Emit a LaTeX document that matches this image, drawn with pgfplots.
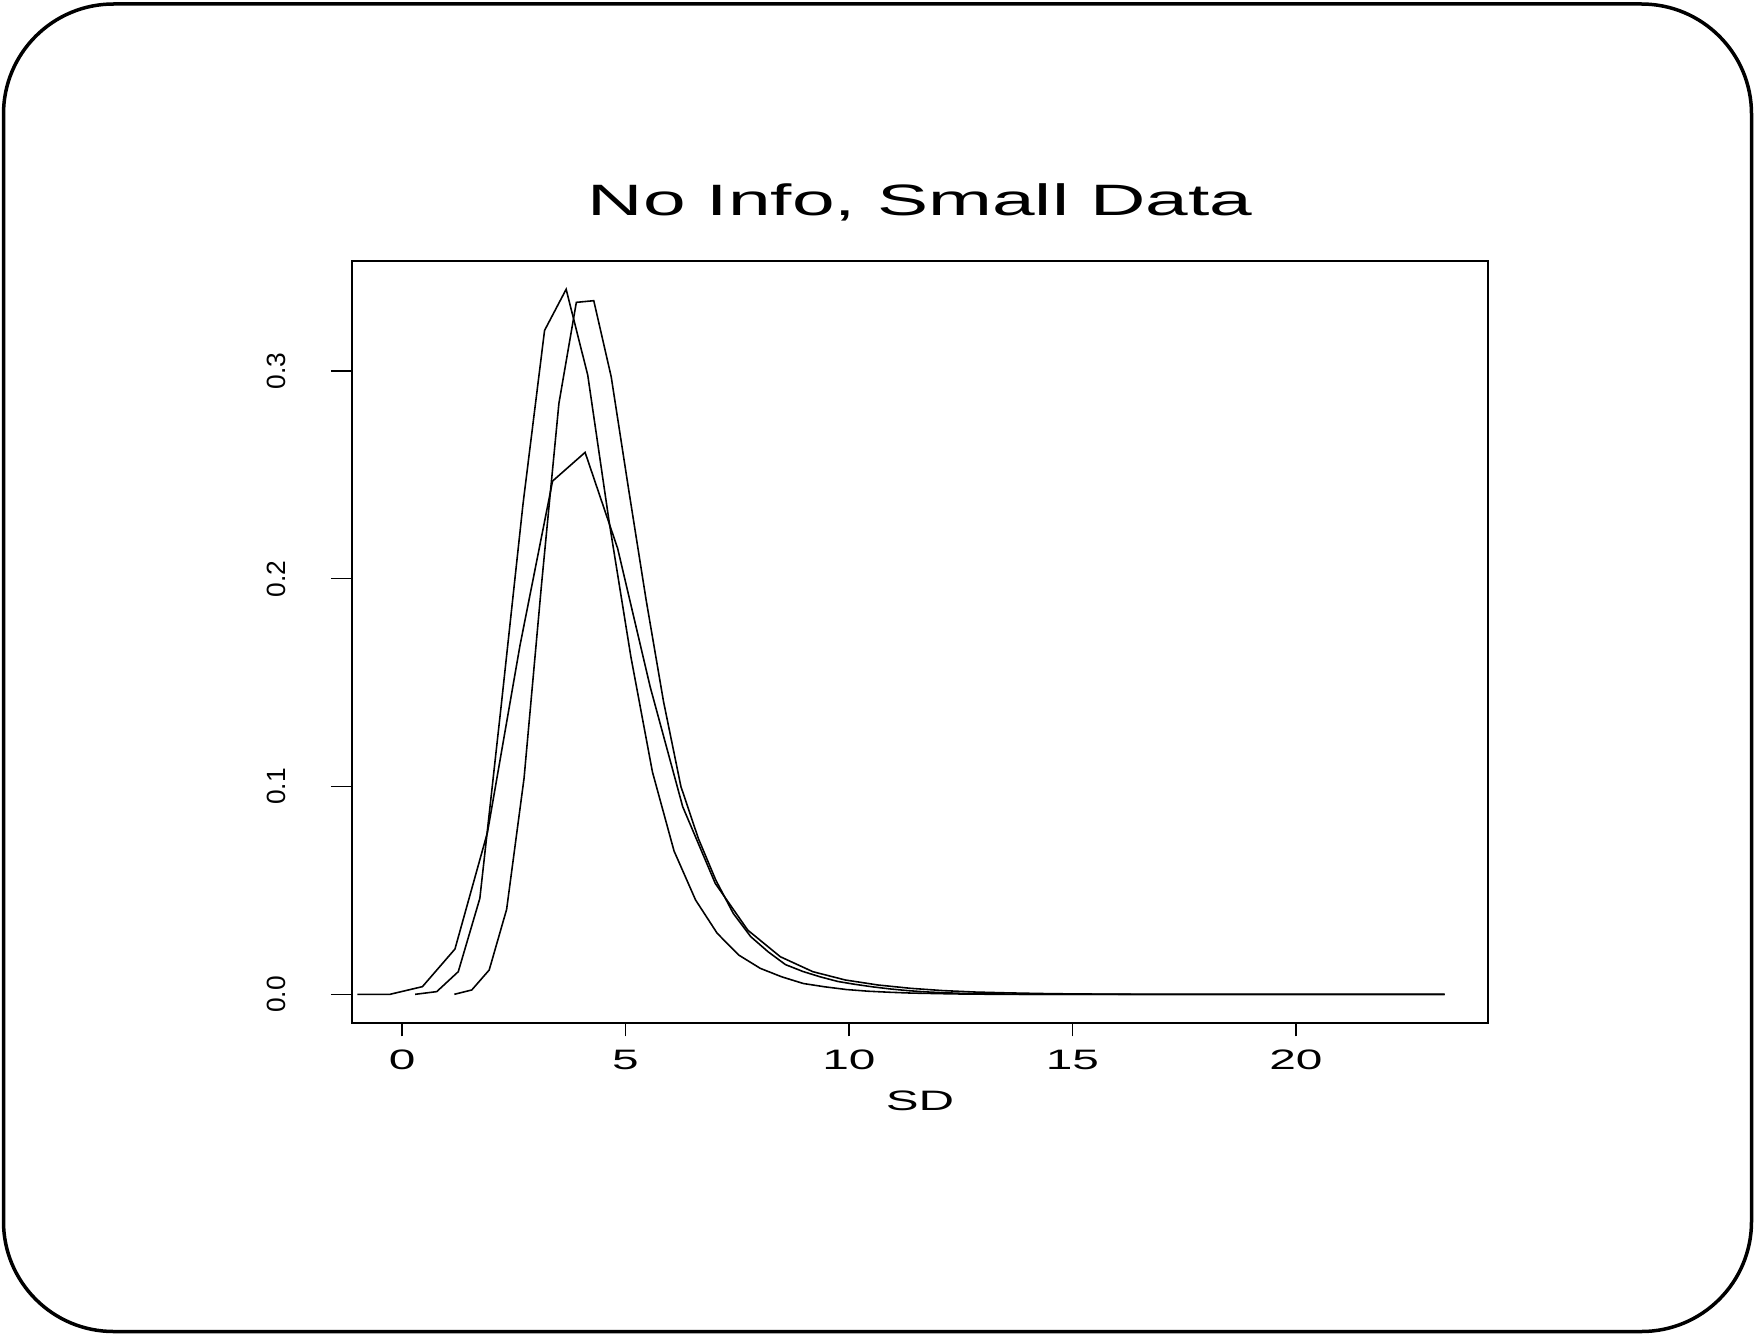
\documentclass[border=0pt]{standalone}
\usepackage{fontspec}
\setmainfont{Liberation Sans}
\usepackage{pgfplots}
\pgfplotsset{compat=1.18}
\begin{document}
\begin{tikzpicture}
\useasboundingbox (0,0) rectangle (175.5mm,133.5mm);
\draw[line width=0.35mm, rounded corners=11mm] (0.35mm,0.35mm) rectangle (175.15mm,133.1mm);
\begin{axis}[
  at={(35.2mm,31.2mm)}, anchor=south west,
  width=113.6mm, height=76.2mm, scale only axis,
  xmin=-1.12, xmax=24.3, ymin=-0.0138, ymax=0.3529,
  axis line style={line width=0.4pt},
  tick pos=left, tick align=outside,
  xtick={0,5,10,15,20}, ytick={0,0.1,0.2,0.3},
  xtick style={/pgfplots/major tick length=1.34mm, line width=0.4pt, black},
  ytick style={/pgfplots/major tick length=2.1mm, line width=0.4pt, black},
  /pgf/number format/assume math mode=true,
  xticklabel={\pgfmathprintnumber[assume math mode=true]{\tick}},
  yticklabel={\pgfmathprintnumber[assume math mode=true,fixed,fixed zerofill,precision=1]{\tick}},
  xticklabel style={font=\fontsize{8}{9}\selectfont, anchor=center, yshift=-2.2mm, xscale=1.7},
  yticklabel style={font=\fontsize{7.5}{9}\selectfont, anchor=center, xshift=-6.1mm, rotate=90},
  title={No Info, Small Data},
  title style={at={(axis description cs:0.5,1)}, anchor=center, yshift=3.8mm, xscale=1.745, font=\fontsize{12.5}{14}\selectfont},
  xlabel={SD},
  xlabel style={at={(axis description cs:0.5,0)}, anchor=center, yshift=-7.8mm, xscale=1.75, font=\fontsize{8}{9}\selectfont},
]
% Series A
\addplot[black, line width=0.45pt, mark=none] coordinates {(0.293,0) (0.776,0.0013) (1.258,0.0109) (1.741,0.0462) (2.224,0.140) (2.707,0.236) (3.189,0.3195) (3.672,0.3393) (4.155,0.298) (4.637,0.227) (5.120,0.1625) (5.603,0.107) (6.086,0.069) (6.568,0.0454) (7.051,0.0294) (7.534,0.0189) (8.016,0.0125) (8.499,0.0084) (8.982,0.0052) (9.464,0.0036) (9.947,0.0023) (10.43,0.0015) (10.91,0.0010) (11.40,0.0006) (11.88,0.0004) (12.36,0.0002) (12.84,0.0001) (13.33,0) (23.33,0)};
% Series B
\addplot[black, line width=0.45pt, mark=none] coordinates {(1.17,0) (1.56,0.0021) (1.95,0.0117) (2.34,0.0409) (2.73,0.104) (3.12,0.197) (3.51,0.2844) (3.90,0.333) (4.29,0.3338) (4.68,0.2972) (5.07,0.243) (5.46,0.190) (5.85,0.141) (6.24,0.100) (6.63,0.075) (7.02,0.055) (7.41,0.039) (7.80,0.0278) (8.19,0.0205) (8.58,0.0143) (8.97,0.0110) (9.36,0.0084) (9.75,0.0062) (10.14,0.0048) (10.53,0.0036) (10.92,0.0026) (11.31,0.0018) (11.70,0.0012) (12.09,0.0008) (12.48,0.0005) (12.87,0.0003) (13.26,0.0002) (13.65,0.0001) (14.04,0) (23.33,0)};
% Series C
\addplot[black, line width=0.45pt, mark=none] coordinates {(-1.0,0) (-0.272,0) (0.456,0.0037) (1.184,0.0218) (1.912,0.078) (2.64,0.168) (3.368,0.247) (4.096,0.2608) (4.824,0.2146) (5.552,0.148) (6.28,0.0903) (7.008,0.0534) (7.736,0.0309) (8.464,0.0181) (9.192,0.0109) (9.92,0.0069) (10.648,0.0045) (11.376,0.0029) (12.104,0.0018) (12.832,0.0011) (13.56,0.0007) (14.288,0.0004) (15.016,0.0002) (15.744,0.0001) (16.472,0) (23.33,0)};
\end{axis}
\end{tikzpicture}
\end{document}
